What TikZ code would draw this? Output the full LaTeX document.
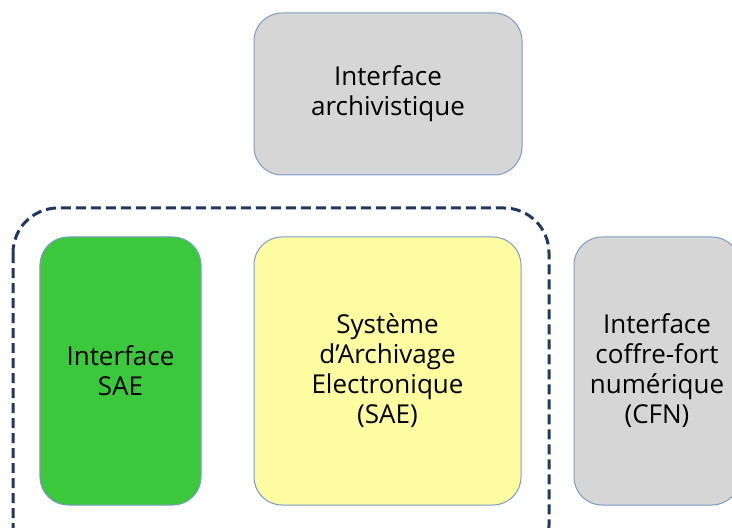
\documentclass[tikz,border=0pt]{standalone}
\usepackage{fontspec}
\setmainfont{Open Sans}
\usetikzlibrary{positioning}
\definecolor{boxedge}{HTML}{7A9CC8}
\definecolor{boxgray}{HTML}{D6D6D6}
\definecolor{saegreen}{HTML}{3CC83C}
\definecolor{saeyellow}{HTML}{FEFCA0}
\definecolor{framenavy}{HTML}{1F3864}
\tikzset{
  bloc/.style={draw=boxedge, line width=1bp, rounded corners=28bp, align=center,
    font=\fontsize{26bp}{30bp}\selectfont, inner sep=0pt},
}
\begin{document}
\begin{tikzpicture}[x=1bp,y=-1bp]
    \useasboundingbox (0,0) rectangle (732,528);
    \clip (0,0) rectangle (732,528);
    \node[bloc, fill=boxgray, minimum width=268bp, minimum height=162bp] (archi) at (388,94)
        {Interface\\archivistique};
    \node[bloc, fill=saegreen, minimum width=161bp, minimum height=268bp] (isae) at (120.5,371)
        {Interface\\SAE};
    \node[bloc, fill=saeyellow, minimum width=267bp, minimum height=268bp] (sae) at (387.5,371)
        {Syst\`eme\\d'Archivage\\Electronique\\(SAE)};
    \node[bloc, fill=boxgray, minimum width=166bp, minimum height=268bp] (cfn) at (657,371)
        {Interface\\coffre-fort\\num\'erique\\(CFN)};
    % cadre en pointilles autour du SAE
    \draw[framenavy, line width=3bp, dash pattern=on 10bp off 5bp, rounded corners=45bp]
        (13,208) rectangle (549,570);
\end{tikzpicture}
\end{document}
